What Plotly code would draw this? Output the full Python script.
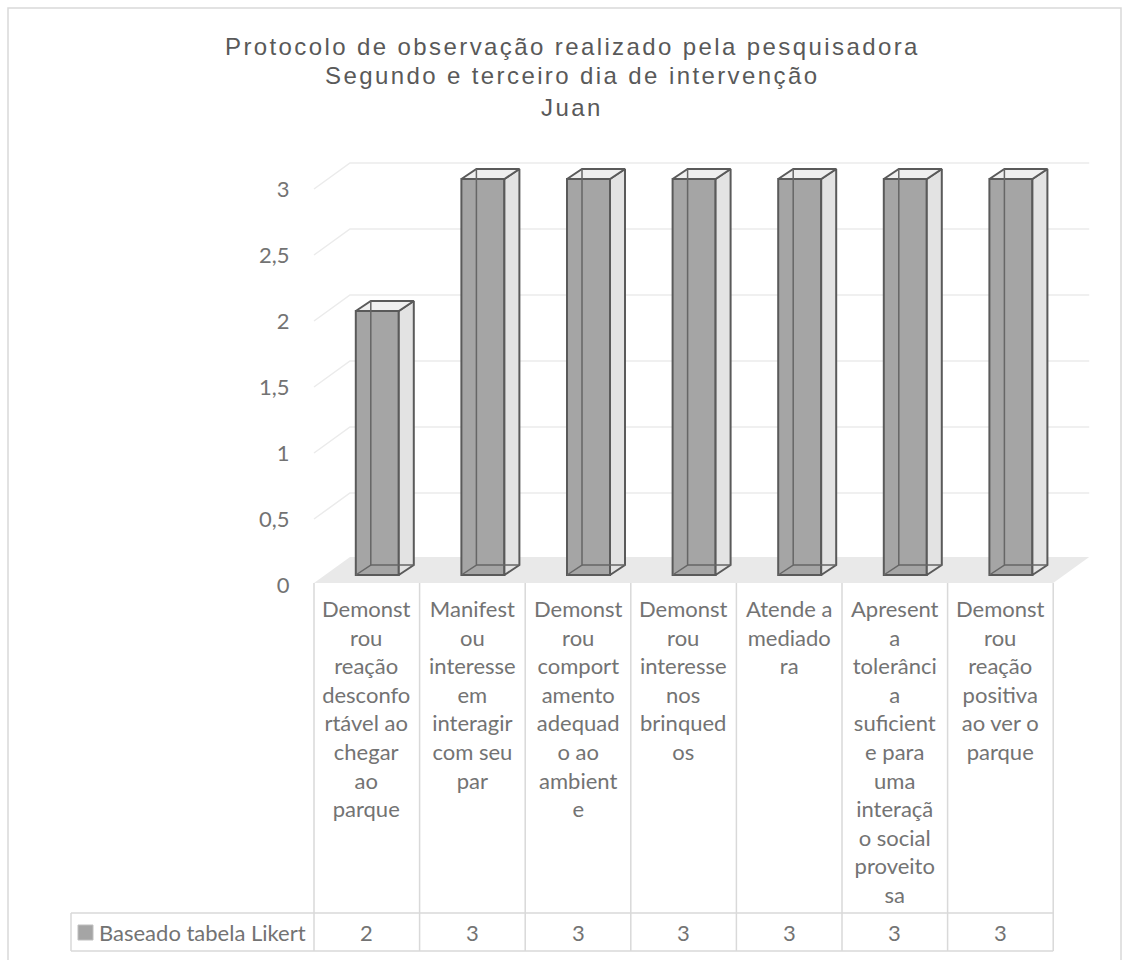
import plotly.graph_objects as go

# ---------------- data ----------------
categories = [
    "Demonst<br>rou<br>reação<br>desconfo<br>rtável ao<br>chegar<br>ao<br>parque",
    "Manifest<br>ou<br>interesse<br>em<br>interagir<br>com seu<br>par",
    "Demonst<br>rou<br>comport<br>amento<br>adequad<br>o ao<br>ambient<br>e",
    "Demonst<br>rou<br>interesse<br>nos<br>brinqued<br>os",
    "Atende a<br>mediado<br>ra",
    "Apresent<br>a<br>tolerânci<br>a<br>suficient<br>e para<br>uma<br>interaçã<br>o social<br>proveito<br>sa",
    "Demonst<br>rou<br>reação<br>positiva<br>ao ver o<br>parque",
]
values = [2, 3, 3, 3, 3, 3, 3]
series_name = "Baseado tabela Likert"
y_ticks = [0, 0.5, 1, 1.5, 2, 2.5, 3]
title_lines = [
    "Protocolo de observação realizado pela pesquisadora",
    "Segundo e terceiro dia de intervenção",
    "Juan",
]

# ---------------- geometry / style ----------------
W, H = 1134, 960
COL_LEFT, COL_W = 314.0, 105.6          # px of first table column, column width
PX_X0, PX_X1 = 312.0, 1110.0            # plot area horizontal extent
Y0_BAR, Y0_LAB, UY = 575.0, 585.0, 132.0  # px of value 0 (bar plane / label plane), px per unit
PX_TOP, PX_BOT = 140.0, 600.0
WALL_DX, WALL_DY = 36.0, 26.0           # depth of the floor / wall in px
BAR_DX, BAR_DY = 15.0, 10.0             # depth of bars in px
BAR_W_PX, BAR_SHIFT_PX = 43.0, 10.5

TXT = "#737373"
TITLE_C = "#595959"
FONT = "Lato"
EDGE = "#5a5a5a"

def px2x(px):
    return (px - COL_LEFT) / COL_W - 0.5

def py(px):
    return 1 - px / H

def pxx(px):
    return px / W

x_range = [px2x(PX_X0), px2x(PX_X1)]
y_range = [(Y0_BAR - PX_BOT) / UY, (Y0_BAR - PX_TOP) / UY]
y2_range = [(Y0_LAB - PX_BOT) / UY, (Y0_LAB - PX_TOP) / UY]

bw = BAR_W_PX / COL_W
boff = (BAR_SHIFT_PX - BAR_W_PX / 2) / COL_W
ddx = BAR_DX / COL_W
ddy = BAR_DY / UY
wdx = WALL_DX / COL_W
wdy = WALL_DY / UY
lab_shift = (Y0_LAB - Y0_BAR) / UY  # label plane offset in bar units

n = len(values)
idx = list(range(n))

fig = go.Figure()

# depth faces (right + top) of every bar
for i, v in enumerate(values):
    xl = i + boff
    xr = xl + bw
    fig.add_trace(go.Scatter(
        x=[xr, xr + ddx, xr + ddx, xr, xr],
        y=[0, ddy, v + ddy, v, 0],
        fill="toself", fillcolor="#e3e3e3", mode="lines",
        line=dict(color=EDGE, width=2), hoverinfo="skip", showlegend=False))
    fig.add_trace(go.Scatter(
        x=[xl, xl + ddx, xr + ddx, xr, xl],
        y=[v, v + ddy, v + ddy, v, v],
        fill="toself", fillcolor="#efefef", mode="lines",
        line=dict(color=EDGE, width=2), hoverinfo="skip", showlegend=False))

# front faces
fig.add_trace(go.Bar(
    x=idx, y=values, width=bw, offset=boff,
    marker=dict(color="#a5a5a5", line=dict(color=EDGE, width=2)),
    name=series_name, showlegend=False, hoverinfo="y"))

# hidden (see-through) edges
for i, v in enumerate(values):
    xl = i + boff
    xr = xl + bw
    fig.add_trace(go.Scatter(
        x=[xl, xl + ddx, xl + ddx, None, xl + ddx, xr + ddx],
        y=[0, ddy, v + ddy, None, ddy, ddy],
        mode="lines", line=dict(color="#666666", width=1.5),
        hoverinfo="skip", showlegend=False))

# dummy trace for label axis
fig.add_trace(go.Scatter(x=[idx[0]], y=[0], yaxis="y2", mode="markers",
                         marker=dict(opacity=0), hoverinfo="skip", showlegend=False))

shapes = []
# floor
fx0, fx1 = -0.5, n - 0.5
fy_front = (Y0_BAR - 583.0) / UY
fy_back = fy_front + wdy
shapes.append(dict(type="path", xref="x", yref="y", layer="below",
                   path=f"M{fx0},{fy_front} L{fx0 + wdx},{fy_back} L{fx1 + wdx},{fy_back} L{fx1},{fy_front} Z",
                   fillcolor="#e9e9e9", line=dict(width=0)))
# gridlines on side wall + back wall
for t in y_ticks[1:]:
    yf = t - lab_shift
    yb = yf + wdy
    shapes.append(dict(type="path", xref="x", yref="y", layer="below",
                       path=f"M{fx0},{yf} L{fx0 + wdx},{yb} L{fx1 + wdx},{yb}",
                       line=dict(color="#ebebeb", width=1.5)))

# data table lines
GRID = "#d9d9d9"
TAB_TOP, ROW_TOP, ROW_BOT, LEG_LEFT = 583.0, 913.0, 951.0, 71.0
tab_right = COL_LEFT + n * COL_W
for k in range(n + 1):
    shapes.append(dict(type="line", xref="x", yref="paper",
                       x0=k - 0.5, x1=k - 0.5, y0=py(TAB_TOP), y1=py(ROW_BOT),
                       line=dict(color=GRID, width=1.5)))
for yy in (ROW_TOP, ROW_BOT):
    shapes.append(dict(type="line", xref="paper", yref="paper",
                       x0=pxx(LEG_LEFT), x1=pxx(tab_right), y0=py(yy), y1=py(yy),
                       line=dict(color=GRID, width=1.5)))
shapes.append(dict(type="line", xref="paper", yref="paper",
                   x0=pxx(LEG_LEFT), x1=pxx(LEG_LEFT), y0=py(ROW_TOP), y1=py(ROW_BOT),
                   line=dict(color=GRID, width=1.5)))
# legend key
shapes.append(dict(type="rect", xref="paper", yref="paper",
                   x0=pxx(78), x1=pxx(93), y0=py(940), y1=py(925),
                   fillcolor="#a5a5a5", line=dict(color="#bfbfbf", width=1)))
# chart border
shapes.append(dict(type="rect", xref="paper", yref="paper",
                   x0=pxx(8), x1=pxx(1121), y0=py(975), y1=py(8),
                   line=dict(color="#d9d9d9", width=1.5), layer="below"))

annotations = []
# category labels
for i, c in enumerate(categories):
    annotations.append(dict(x=i, xref="x", y=py(593), yref="paper",
                            text=c, showarrow=False, xanchor="center", yanchor="top",
                            font=dict(family=FONT, size=22, color=TXT)))
# values row
for i, v in enumerate(values):
    annotations.append(dict(x=i, xref="x", y=py((ROW_TOP + ROW_BOT) / 2), yref="paper",
                            text=str(v), showarrow=False, xanchor="center", yanchor="middle",
                            font=dict(family=FONT, size=22, color=TXT)))
annotations.append(dict(x=pxx(97), xref="paper", y=py((ROW_TOP + ROW_BOT) / 2), yref="paper",
                        text=series_name, showarrow=False, xanchor="left", yanchor="middle",
                        font=dict(family=FONT, size=22, color=TXT)))
# title
for j, (line, ypx) in enumerate(zip(title_lines, [46, 76, 107])):
    annotations.append(dict(x=pxx(572), xref="paper", y=py(ypx), yref="paper",
                            text=f'<span style="letter-spacing:2.4px">{line}</span>',
                            showarrow=False, xanchor="center", yanchor="middle",
                            font=dict(family="Liberation Sans", size=24, color=TITLE_C)))

fig.update_layout(
    width=W, height=H, autosize=False,
    margin=dict(l=0, r=0, t=0, b=0),
    paper_bgcolor="white", plot_bgcolor="rgba(0,0,0,0)",
    separators=", ",
    barmode="overlay",
    xaxis=dict(domain=[pxx(PX_X0), pxx(PX_X1)], range=x_range, showgrid=False,
               zeroline=False, showticklabels=False, ticks="", showline=False, fixedrange=True),
    yaxis=dict(domain=[py(PX_BOT), py(PX_TOP)], range=y_range, showgrid=False,
               zeroline=False, showticklabels=False, ticks="", showline=False),
    yaxis2=dict(domain=[py(PX_BOT), py(PX_TOP)], range=y2_range, overlaying="y",
                anchor="x", side="left", tickvals=y_ticks, showgrid=False, zeroline=False,
                showline=False, ticks="outside", ticklen=17, tickcolor="rgba(0,0,0,0)",
                tickfont=dict(family=FONT, size=22, color=TXT)),
    shapes=shapes, annotations=annotations,
    showlegend=False,
)

fig.write_html("out.html")
